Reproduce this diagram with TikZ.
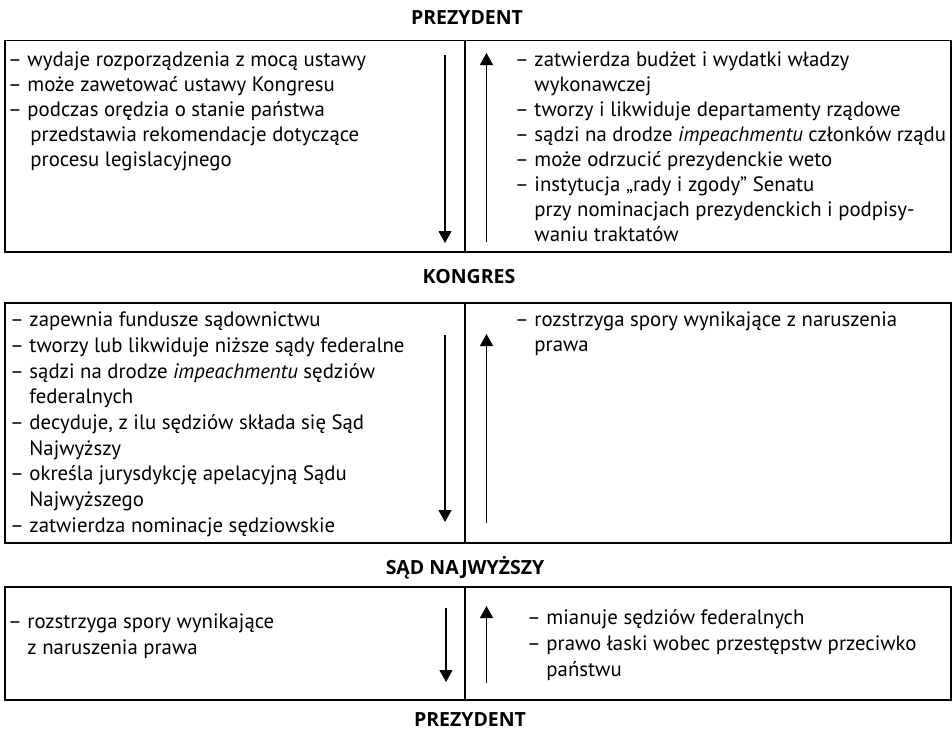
\documentclass[tikz,border=0pt]{standalone}
\usepackage{fontspec}
\setmainfont{PT Sans}
\newfontfamily\titlefont{Open Sans}
\usetikzlibrary{arrows.meta}
\newcommand{\ind}{\phantom{– }}
\newcommand{\fs}{\rule{0pt}{20pt}}
\tikzset{
  box/.style={draw=black, line width=1.6pt},
  col/.style={anchor=north west, inner sep=0pt, align=left},
  title/.style={font=\titlefont\fontsize{19.5}{22}\selectfont\bfseries, anchor=base},
  flow/.style={line width=1.1pt, -{Triangle[length=12pt,width=13pt]}},
}
\begin{document}
\begin{tikzpicture}[x=1pt,y=-1pt]
\useasboundingbox (0,0) rectangle (952,731);

% titles
\node[title] (t1) at (467,24) {PREZYDENT};
\node[title] (t2) at (469,283.3) {KONGRES};
\node[title] (t3) at (465,574.3) {SĄD NAJWYŻSZY};
\node[title] (t4) at (470,726.7) {PREZYDENT};

% boxes
\draw[box] (5,40.5) rectangle (951,252);
\draw[box] (465,40.5) -- (465,252);
\draw[box] (5,303) rectangle (951,543);
\draw[box] (465,303) -- (465,543);
\draw[box] (5,587) rectangle (951,700);
\draw[box] (465,587) -- (465,700);

% box 1
\node[col, font=\fontsize{20.8}{25}\selectfont] (b1l) at (8,46.5) {\fs– wydaje rozporządzenia z mocą ustawy\\
– może zawetować ustawy Kongresu\\
– podczas orędzia o stanie państwa\\
\ind\hspace{3pt}przedstawia rekomendacje dotyczące\\
\ind\hspace{3pt}procesu legislacyjnego};
\node[col, font=\fontsize{20.8}{25}\selectfont] (b1r) at (515,46.5) {\fs– zatwierdza budżet i wydatki władzy\\
\ind wykonawczej\\
– tworzy i likwiduje departamenty rządowe\\
– sądzi na drodze \textit{impeachmentu} członków rządu\\
– może odrzucić prezydenckie weto\\
– instytucja „rady i zgody” Senatu\\
\ind przy nominacjach prezydenckich i podpisy-\\
\ind waniu traktatów};

% box 2
\node[col, font=\fontsize{20.8}{25.7}\selectfont] (b2l) at (10,306.5) {\fs– zapewnia fundusze sądownictwu\\
– tworzy lub likwiduje niższe sądy federalne\\
– sądzi na drodze \textit{impeachmentu} sędziów\\
\ind federalnych\\
– decyduje, z ilu sędziów składa się Sąd\\
\ind Najwyższy\\
– określa jurysdykcję apelacyjną Sądu\\
\ind Najwyższego\\
– zatwierdza nominacje sędziowskie};
\node[col, font=\fontsize{20.8}{25.7}\selectfont] (b2r) at (515,306) {\fs– rozstrzyga spory wynikające z naruszenia\\
\ind prawa};

% box 3
\node[col, font=\fontsize{20.8}{25.8}\selectfont] (b3l) at (8,608.5) {\fs– rozstrzyga spory wynikające\\
\ind z naruszenia prawa};
\node[col, font=\fontsize{20.8}{25.8}\selectfont] (b3r) at (527,604.5) {\fs– mianuje sędziów federalnych\\
– prawo łaski wobec przestępstw przeciwko\\
\ind państwu};

% arrows
\coordinate (d1s) at (445,55);   \coordinate (d1e) at (445,243);
\coordinate (u1s) at (486.5,242); \coordinate (u1e) at (486.5,53);
\coordinate (d2s) at (445,335);  \coordinate (d2e) at (445,522);
\coordinate (u2s) at (486.5,523); \coordinate (u2e) at (486.5,334);
\coordinate (d3s) at (446,608);  \coordinate (d3e) at (446,682);
\coordinate (u3s) at (486.5,683); \coordinate (u3e) at (486.5,606);
\draw[flow] (d1s) -- (d1e);
\draw[flow] (u1s) -- (u1e);
\draw[flow] (d2s) -- (d2e);
\draw[flow] (u2s) -- (u2e);
\draw[flow] (d3s) -- (d3e);
\draw[flow] (u3s) -- (u3e);
\end{tikzpicture}
\end{document}
